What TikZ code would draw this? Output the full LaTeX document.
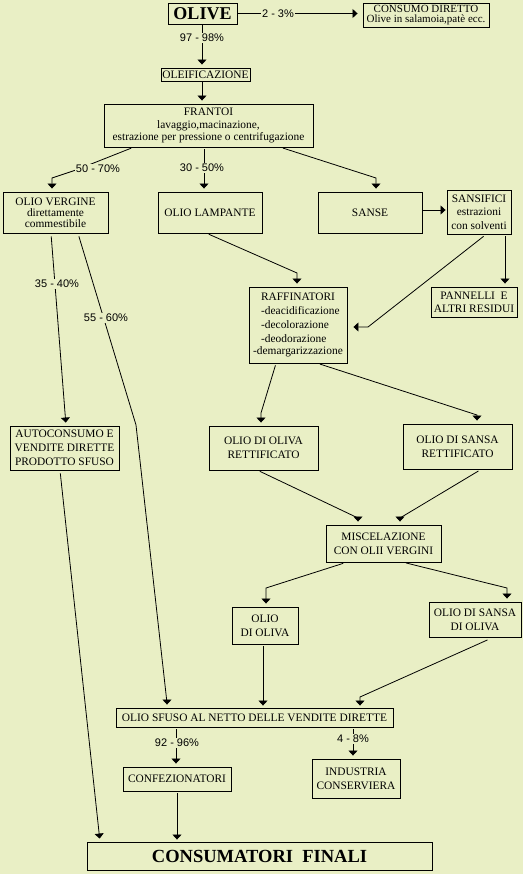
\documentclass[tikz,border=0pt]{standalone}
\usepackage{fontspec}
\setmainfont{Liberation Serif}
\newfontfamily\pctfont{Liberation Sans}
\usetikzlibrary{arrows.meta}
\definecolor{bg}{RGB}{233,239,197}
\begin{document}
\begin{tikzpicture}[x=1pt,y=-1pt,
 box/.style={draw, line width=0.9pt, inner sep=0pt, align=center, font=\fontsize{11.4}{12.5}\selectfont},
 conn/.style={line width=0.8pt, shorten <=2pt, shorten >=3pt, -{Triangle[width=9pt,length=5pt]}},
 plain/.style={line width=0.8pt, shorten <=2pt},
 pct/.style={fill=bg, inner sep=1pt, font=\pctfont\fontsize{11}{12}\selectfont}]
\useasboundingbox[fill=bg] (0,0) rectangle (523,874);

% boxes
\node[box, minimum width=69pt, minimum height=21pt, font=\fontsize{18}{20}\selectfont\bfseries] (olive) at (202.5,13.5) {OLIVE};
\node[box, minimum width=126pt, minimum height=24pt, font=\fontsize{11}{10.3}\selectfont] (consumo) at (426,15) {CONSUMO DIRETTO\\Olive in salamoia,patè ecc.};
\node[box, minimum width=89pt, minimum height=13pt] (oleif) at (205.5,74.5) {OLEIFICAZIONE};
\node[box, minimum width=209pt, minimum height=43pt] (frantoi) at (208.5,125.5) {FRANTOI\\lavaggio,macinazione,\\estrazione per pressione o centrifugazione};
\node[box, minimum width=105pt, minimum height=41pt, font=\fontsize{11.4}{11}\selectfont] (vergine) at (55.5,212.5) {OLIO VERGINE\\direttamente\\commestibile};
\node[box, minimum width=104pt, minimum height=41pt] (lampante) at (210,212.5) {OLIO LAMPANTE};
\node[box, minimum width=104pt, minimum height=41pt] (sanse) at (370,212.5) {SANSE};
\node[box, minimum width=64pt, minimum height=44pt, font=\fontsize{11.4}{13.5}\selectfont] (sansifici) at (479,212) {SANSIFICI\\estrazioni\\con solventi};
\node[box, minimum width=86pt, minimum height=30pt, font=\fontsize{11.4}{13}\selectfont] (pannelli) at (474,302) {PANNELLI~ E\\ALTRI RESIDUI};
\node[box, minimum width=98pt, minimum height=76pt, font=\fontsize{11.4}{13.8}\selectfont] (raff) at (298,325) {\begin{tabular}{@{}l@{}}\multicolumn{1}{c}{RAFFINATORI}\\[0.5pt] \hspace*{8pt}-deacidificazione\\ \hspace*{8pt}-decolorazione\\ \hspace*{8pt}-deodorazione\\[-1.5pt] -demargarizzazione\end{tabular}};
\node[box, minimum width=109pt, minimum height=44pt, font=\fontsize{11.4}{14}\selectfont] (autoc) at (64.5,448) {AUTOCONSUMO E\\VENDITE DIRETTE\\PRODOTTO SFUSO};
\node[box, minimum width=109pt, minimum height=44pt, font=\fontsize{11.4}{14}\selectfont] (retto) at (263.5,448) {OLIO DI OLIVA\\RETTIFICATO};
\node[box, minimum width=109pt, minimum height=45pt, font=\fontsize{11.4}{14}\selectfont] (retts) at (457.5,446.5) {OLIO DI SANSA\\RETTIFICATO};
\node[box, minimum width=115pt, minimum height=37pt, font=\fontsize{11.4}{14}\selectfont] (misc) at (383.5,543.5) {MISCELAZIONE\\CON OLII VERGINI};
\node[box, minimum width=66pt, minimum height=37pt, font=\fontsize{11.4}{14}\selectfont] (oliva) at (265,625.5) {OLIO\\DI OLIVA};
\node[box, minimum width=92pt, minimum height=35pt, font=\fontsize{11.4}{14}\selectfont] (sansaol) at (475,619.5) {OLIO DI SANSA\\DI OLIVA};
\node[box, minimum width=277pt, minimum height=19pt] (sfuso) at (254.5,717.5) {OLIO SFUSO AL NETTO DELLE VENDITE DIRETTE};
\node[box, minimum width=108pt, minimum height=24pt] (confez) at (177,779) {CONFEZIONATORI};
\node[box, minimum width=88pt, minimum height=39pt, font=\fontsize{11.4}{14}\selectfont] (industria) at (356,778.5) {INDUSTRIA\\CONSERVIERA};
\node[box, minimum width=345pt, minimum height=28pt, font=\fontsize{18.5}{20}\selectfont\bfseries] (consumatori) at (259.5,856) {CONSUMATORI~ FINALI};

% connectors
\draw[conn, shorten <=0pt, shorten >=5pt] (olive.east) -- (olive.east -| consumo.west);
\draw[conn, shorten <=0pt] (202,0 |- olive.south) -- (202,0 |- oleif.north);
\draw[conn, shorten <=0pt] (202,0 |- oleif.south) -- (202,0 |- frantoi.north);
\draw[conn] (133,0 |- frantoi.south) -- (76,170) -- (52,178) -- (52,0 |- vergine.north);
\draw[conn] (204,0 |- frantoi.south) -- (204,0 |- lampante.north);
\draw[conn] (281,0 |- frantoi.south) -- (376,178) -- (376,0 |- sanse.north);
\draw[conn, shorten <=1pt, shorten >=1pt] (sanse.east |- 0,210) -- (sansifici.west |- 0,210);
\draw[conn] (207,0 |- lampante.south) -- (297,273) -- (297,0 |- raff.north);
\draw[conn, shorten <=3pt, shorten >=6pt] (486,0 |- sansifici.south) -- (368,327) -- (raff.east |- 0,327);
\draw[conn] (505,0 |- sansifici.south) -- (505,0 |- pannelli.north);
\draw[conn, shorten <=3pt] (51,0 |- vergine.south) -- (66,0 |- autoc.north);
\draw[conn, shorten <=3pt] (78,0 |- vergine.south) -- (136,425) -- (167,703) -- (167,0 |- sfuso.north);
\draw[conn] (276,0 |- raff.south) -- (261,413) -- (261,0 |- retto.north);
\draw[conn] (318,0 |- raff.south) -- (477,415) -- (477,0 |- retts.north);
\draw[conn, shorten <=3pt] (60,0 |- autoc.south) -- (100,0 |- consumatori.north);
\draw[conn] (258,0 |- retto.south) -- (358,518) -- (358,0 |- misc.north);
\draw[conn, shorten <=3pt] (481,0 |- retts.south) -- (400,518) -- (400,0 |- misc.north);
\draw[conn, shorten <=3pt] (346,0 |- misc.south) -- (266,588) -- (266,0 |- oliva.north);
\draw[conn] (404,0 |- misc.south) -- (507,588) -- (507,0 |- sansaol.north);
\draw[conn, shorten >=2pt] (263,0 |- oliva.south) -- (263,0 |- sfuso.north);
\draw[conn, shorten <=6pt, shorten >=2pt] (493,0 |- sansaol.south) -- (360,697) -- (360,0 |- sfuso.north);
\draw[conn] (176,0 |- sfuso.south) -- (176,0 |- confez.north);
\draw[conn] (353,0 |- sfuso.south) -- (353,0 |- industria.north);
\draw[conn, shorten >=2pt] (177,0 |- confez.south) -- (177,0 |- consumatori.north);

% percentage labels
\node[pct] (p23) at (278,14) {2 - 3\%};
\node[pct] (p9798) at (202,38) {97 - 98\%};
\node[pct] (p5070) at (98,169) {50 - 70\%};
\node[pct] (p3050) at (202,168) {30 - 50\%};
\node[pct] (p3540) at (57,284) {35 - 40\%};
\node[pct] (p5560) at (106,318) {55 - 60\%};
\node[pct] (p9296) at (177,743) {92 - 96\%};
\node[pct] (p48) at (353,739) {4 - 8\%};
\end{tikzpicture}
\end{document}
